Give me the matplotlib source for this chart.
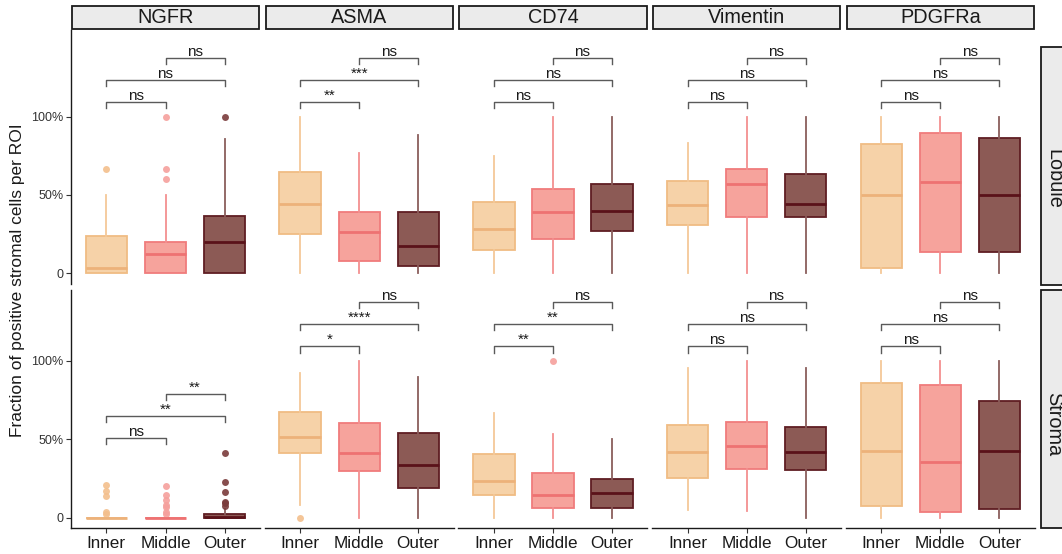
import matplotlib
matplotlib.use("Agg")
import matplotlib.pyplot as plt
from matplotlib.patches import Rectangle

plt.rcParams['font.family'] = ['Liberation Sans', 'DejaVu Sans']

# ---- data -------------------------------------------------------------
markers = ["NGFR", "ASMA", "CD74", "Vimentin", "PDGFRa"]
regions = ["Lobule", "Stroma"]
groups = ["Inner", "Middle", "Outer"]

# box statistics per region -> marker -> [Inner, Middle, Outer]
# each entry: (whislo, q1, median, q3, whishi)
lobule_stats = {
    "NGFR":     [(0, 0, 3.6, 23.8, 50), (0, 0, 12.3, 19.8, 50), (0, 0, 19.8, 36.8, 85.5)],
    "ASMA":     [(0, 24.9, 44.2, 64.9, 100), (0, 7.8, 26.5, 39.3, 76.6), (0, 4.9, 17.4, 39.3, 88.5)],
    "CD74":     [(0, 14.9, 28.5, 45.7, 75), (0, 21.7, 38.9, 53.6, 100), (0, 26.8, 40.0, 57.0, 100)],
    "Vimentin": [(0, 31.0, 43.6, 58.9, 83), (0, 35.7, 56.8, 66.4, 100), (0, 36.1, 44.2, 63.4, 100)],
    "PDGFRa":   [(0, 3.6, 50.0, 82.3, 100), (0, 13.8, 58.1, 89.7, 100), (0, 13.4, 50.0, 86.1, 100)],
}
stroma_stats = {
    "NGFR":     [(0, 0, 0, 0, 0), (0, 0, 0, 0, 0), (0, 0, 0.6, 2.6, 5.4)],
    "ASMA":     [(8.1, 41.1, 51.7, 67.6, 92.1), (0, 29.8, 41.1, 60.6, 100), (0, 19.2, 33.4, 54.3, 90)],
    "CD74":     [(0, 14.5, 23.2, 40.6, 66.6), (0, 6.4, 14.7, 28.3, 53.4), (0, 6.0, 15.6, 24.9, 50)],
    "Vimentin": [(4.9, 25.1, 41.9, 59.2, 95.3), (4.3, 31.1, 46.0, 60.9, 100), (0, 30.4, 41.9, 58.1, 95.3)],
    "PDGFRa":   [(0, 7.7, 42.8, 85.8, 100), (0, 3.4, 35.7, 84.7, 100), (0, 5.7, 42.8, 74.7, 100)],
}

# outliers per region -> marker -> [Inner, Middle, Outer]
lobule_fliers = {
    "NGFR": [[66.7], [60, 66.7, 100], [100]],
}
stroma_fliers = {
    "NGFR": [[2.4, 3.8, 13.8, 17.2, 20.9],
             [2.4, 3.8, 7.0, 8.1, 11.3, 14.5, 20.4],
             [7.7, 9.2, 10.2, 16.6, 23.0, 41.1]],
    "ASMA": [[0], [], []],
    "CD74": [[], [100], []],
}

# significance labels for (Inner-Middle, Inner-Outer, Middle-Outer)
lobule_sig = {
    "NGFR": ["ns", "ns", "ns"],
    "ASMA": ["**", "***", "ns"],
    "CD74": ["ns", "ns", "ns"],
    "Vimentin": ["ns", "ns", "ns"],
    "PDGFRa": ["ns", "ns", "ns"],
}
stroma_sig = {
    "NGFR": ["ns", "**", "**"],
    "ASMA": ["*", "****", "ns"],
    "CD74": ["**", "**", "ns"],
    "Vimentin": ["ns", "ns", "ns"],
    "PDGFRa": ["ns", "ns", "ns"],
}
# bracket heights (y, in %) for each comparison
default_levels = [109.4, 123.6, 137.5]
stroma_ngfr_levels = [50.7, 65.0, 79.0]

y_ticks = [0, 50, 100]
y_ticklabels = ["0", "50%", "100%"]

# ---- styling ----------------------------------------------------------
fills = ["#F6D2A8", "#F6A39C", "#8C5A55"]
edges = ["#F0BC84", "#F07C7C", "#5F1E23"]
medians = ["#EDB27A", "#EE7272", "#5A1219"]
whisk = ["#F4C898", "#F39090", "#8A5E5C"]
flier_cols = ["#F3BF8C", "#F5A09C", "#7A3B3B"]
bracket_col = "#5A5A5A"

W, H = 1062, 554
fig = plt.figure(figsize=(W / 100, H / 100), dpi=100)


def frac(x0, y0, x1, y1):
    return [x0 / W, 1 - y1 / H, (x1 - x0) / W, (y1 - y0) / H]


col_left = [71, 264.7, 458.4, 652.1, 845.8]
col_w = 189
row_span = [(30, 284), (290, 528)]
row_ylim = [(-6.8, 155.3), (-6.6, 145.3)]

stats_by_row = [lobule_stats, stroma_stats]
fliers_by_row = [lobule_fliers, stroma_fliers]
sig_by_row = [lobule_sig, stroma_sig]
pairs = [(1, 2), (1, 3), (2, 3)]

for r in range(2):
    for c, m in enumerate(markers):
        x0 = col_left[c]
        y0, y1 = row_span[r]
        ax = fig.add_axes(frac(x0, y0, x0 + col_w, y1))
        ax.set_xlim(0.4, 3.6)
        ax.set_ylim(*row_ylim[r])
        for s in ["top", "right"]:
            ax.spines[s].set_visible(False)

        fl = fliers_by_row[r].get(m, [[], [], []])
        bstats = []
        for g in range(3):
            lo, q1, med, q3, hi = stats_by_row[r][m][g]
            bstats.append(dict(whislo=lo, q1=q1, med=med, q3=q3, whishi=hi,
                               fliers=fl[g]))
        for g in range(3):
            ax.bxp([bstats[g]], positions=[g + 1], widths=0.7,
                   patch_artist=True, showcaps=False,
                   boxprops=dict(facecolor=fills[g], edgecolor=edges[g], linewidth=1.3),
                   medianprops=dict(color=medians[g], linewidth=2.0),
                   whiskerprops=dict(color=whisk[g], linewidth=1.3),
                   flierprops=dict(marker='o', markersize=5, markerfacecolor=flier_cols[g],
                                   markeredgecolor='none', alpha=0.9))

        # significance brackets
        levels = stroma_ngfr_levels if (r == 1 and m == "NGFR") else default_levels
        tick = 4.0
        for (a, b), yl, lab in zip(pairs, levels, sig_by_row[r][m]):
            ax.plot([a, a, b, b], [yl - tick, yl, yl, yl - tick],
                    color=bracket_col, lw=1.0, clip_on=False)
            ax.text((a + b) / 2, yl + 1.3, lab, ha='center', va='baseline',
                    fontsize=11, color='#1a1a1a')

        # axes
        if c == 0:
            ax.spines['left'].set_color('#1a1a1a')
            ax.spines['left'].set_linewidth(1.0)
            ax.set_yticks(y_ticks)
            ax.set_yticklabels(y_ticklabels, fontsize=9, color='#333333')
            ax.tick_params(axis='y', length=3.5, width=0.8, color='#333333', pad=2)
        else:
            ax.spines['left'].set_visible(False)
            ax.set_yticks([])
        if r == 1:
            ax.spines['bottom'].set_color('#1a1a1a')
            ax.spines['bottom'].set_linewidth(1.0)
            ax.set_xticks([1, 2, 3])
            ax.set_xticklabels(groups, fontsize=12.3, color='#1a1a1a')
            ax.tick_params(axis='x', length=3.5, width=0.8, color='#333333', pad=2)
        else:
            ax.spines['bottom'].set_visible(False)
            ax.set_xticks([])
        ax.patch.set_alpha(0)

# column strips
for c, m in enumerate(markers):
    x0 = col_left[c] + 0.8
    fig.patches.append(Rectangle((x0 / W, 1 - 29.3 / H), (col_w - 1.6) / W, 23.3 / H,
                                 transform=fig.transFigure, facecolor='#EBEBEB',
                                 edgecolor='#1a1a1a', linewidth=1.3))
    fig.text((col_left[c] + col_w / 2) / W, 1 - 17.8 / H, m, ha='center', va='center',
             fontsize=14.3, color='#1a1a1a')

# row strips
row_strip = [(47, 285), (290, 528)]
row_text_y = [179, 424]
for r, reg in enumerate(regions):
    s0, s1 = row_strip[r]
    fig.patches.append(Rectangle((1041 / W, 1 - s1 / H), 40 / W, (s1 - s0) / H,
                                 transform=fig.transFigure, facecolor='#EBEBEB',
                                 edgecolor='#1a1a1a', linewidth=1.3))
    fig.text(1053.5 / W, 1 - row_text_y[r] / H, reg, ha='center', va='center',
             rotation=-90, fontsize=14.3, color='#1a1a1a')

fig.text(18 / W, 1 - 280 / H, "Fraction of positive stromal cells per ROI",
         rotation=90, ha='center', va='center', fontsize=12.5, color='#1a1a1a')

fig.savefig("out.png", dpi=100)
